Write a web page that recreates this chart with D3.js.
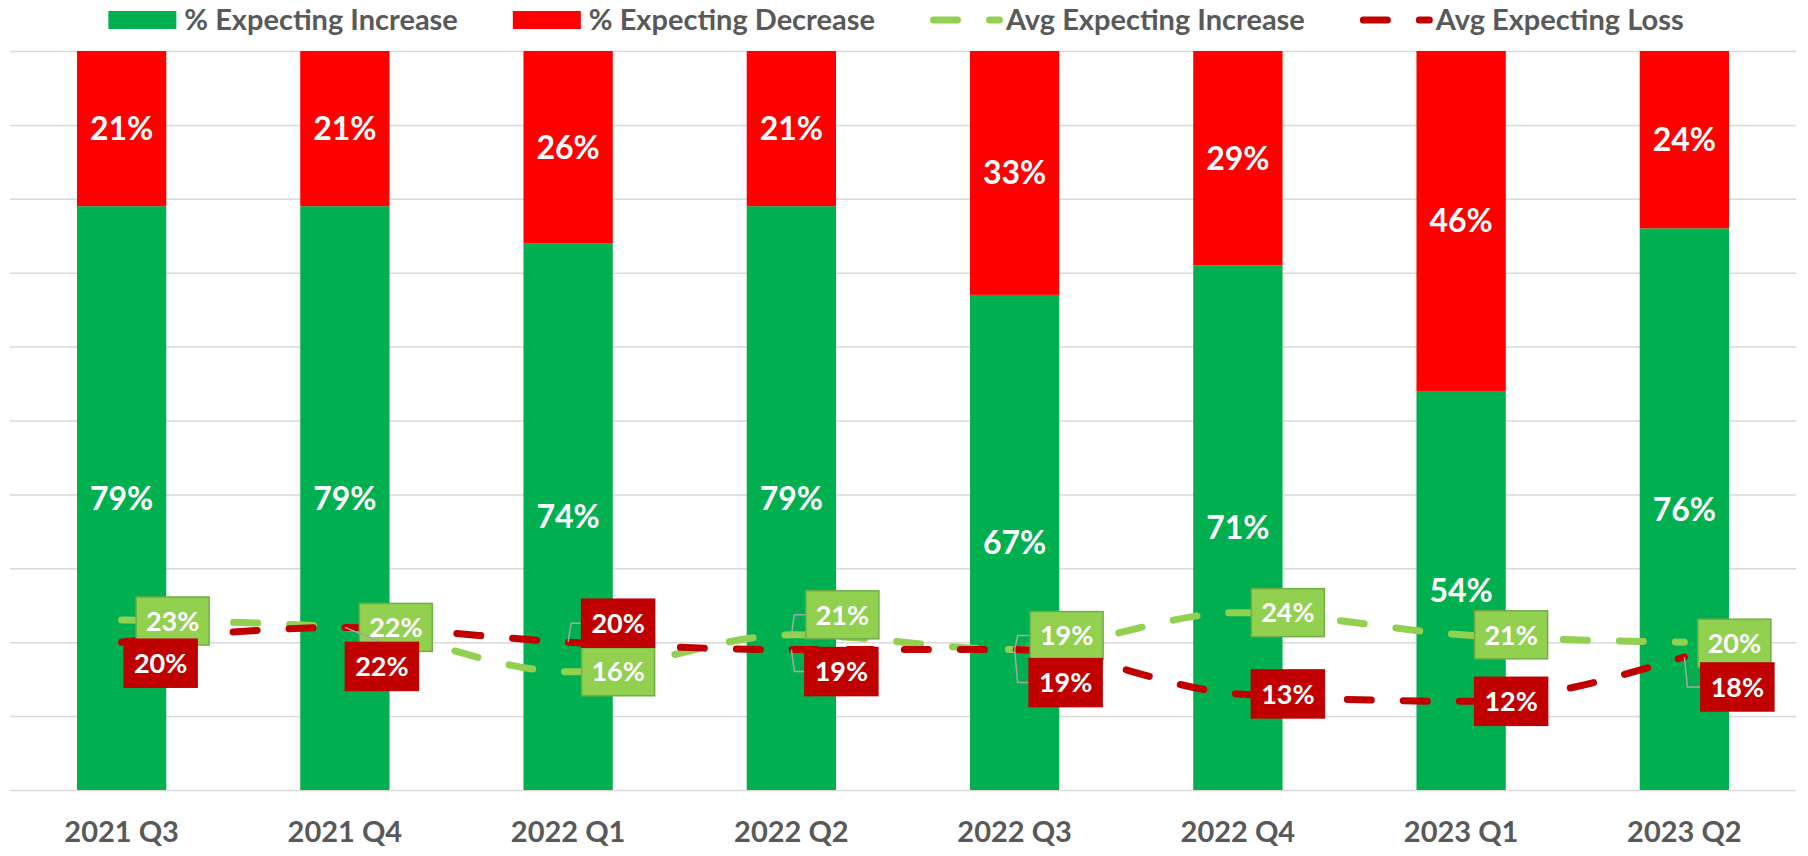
<!DOCTYPE html>
<html>
<head>
<meta charset="utf-8">
<script src="https://cdn.jsdelivr.net/npm/d3@7"></script>
<style>
  body { margin: 0; background: #fff; }
  text { font-family: Lato, "Open Sans", sans-serif; font-weight: bold; }
</style>
</head>
<body>
<div id="chart-area"></div>
<script>
// data
const quarters = ["2021 Q3", "2021 Q4", "2022 Q1", "2022 Q2", "2022 Q3", "2022 Q4", "2023 Q1", "2023 Q2"]
const pctIncrease = [79, 79, 74, 79, 67, 71, 54, 76]
const pctDecrease = [21, 21, 26, 21, 33, 29, 46, 24]
const avgIncrease = [23, 22, 16, 21, 19, 24, 21, 20]
const avgLoss = [20, 22, 20, 19, 19, 13, 12, 18]
const yTicks = [0, 10, 20, 30, 40, 50, 60, 70, 80, 90, 100]
const legendNames = ["% Expecting Increase", "% Expecting Decrease", "Avg Expecting Increase", "Avg Expecting Loss"]

// label nudges (px) for the line labels, as placed by hand in the original
const incNudge = [[51, 1], [51, 0], [50, 0], [51, -20], [52, -14], [50, 0], [50, 0], [50, 1]]
const lossNudge = [[39, 21], [37, 39], [50, -19], [50, 22], [51, 33], [50, 0], [50, 0], [53, 30]]

const W = 1808, H = 856
const svg = d3.select("#chart-area").append("svg")
    .attr("width", W)
    .attr("height", H)

const x = d3.scaleBand()
    .domain(quarters)
    .range([10, 1796])
    .paddingInner(0.6)
    .paddingOuter(0.3)

const y = d3.scaleLinear()
    .domain([0, 100])
    .range([790, 51])

const cx = d => x(d) + x.bandwidth() / 2

// gridlines
const grid = svg.append("g")
    .attr("transform", "translate(10,0)")
    .call(d3.axisLeft(y).tickValues(yTicks).tickSize(-1786).tickFormat(""))
grid.select(".domain").remove()
grid.selectAll("line").attr("stroke", "#d9d9d9").attr("stroke-width", 1.5)

// stacked bars
const rows = quarters.map((q, i) => ({ q: q, inc: pctIncrease[i], dec: pctDecrease[i] }))
const stack = d3.stack().keys(["inc", "dec"])(rows)
const barColor = { inc: "#00b050", dec: "#ff0000" }

const layers = svg.selectAll("g.layer")
    .data(stack)
    .enter().append("g")
    .attr("class", "layer")
    .attr("fill", d => barColor[d.key])

layers.selectAll("rect")
    .data(d => d)
    .enter().append("rect")
    .attr("x", d => x(d.data.q))
    .attr("y", d => y(d[1]))
    .attr("width", x.bandwidth())
    .attr("height", d => y(d[0]) - y(d[1]))

layers.selectAll("text")
    .data(d => d)
    .enter().append("text")
    .attr("x", d => cx(d.data.q))
    .attr("y", d => y((d[0] + d[1]) / 2))
    .attr("dy", "0.36em")
    .attr("text-anchor", "middle")
    .attr("fill", "#fff")
    .attr("font-size", 32)
    .text(d => Math.round(d[1] - d[0]) + "%")

// x axis
const xAxis = svg.append("g")
    .attr("transform", "translate(0,790)")
    .call(d3.axisBottom(x).tickSize(0))
xAxis.select(".domain").remove()
xAxis.selectAll("text")
    .attr("y", 52)
    .attr("dy", null)
    .attr("fill", "#595959")
    .attr("font-size", 29)
    .attr("font-family", "Lato, sans-serif")
    .attr("font-weight", "bold")

// dashed smooth lines
const lineGen = d3.line()
    .x((d, i) => cx(quarters[i]))
    .y(d => y(d))
    .curve(d3.curveMonotoneX)

const series = [
    { vals: avgIncrease, color: "#92d050", box: "#92d050", edge: "#70ad47", nudge: incNudge },
    { vals: avgLoss, color: "#c00000", box: "#c00000", edge: "#c00000", nudge: lossNudge }
]

series.forEach(s => {
    svg.append("path")
        .attr("d", lineGen(s.vals))
        .attr("fill", "none")
        .attr("stroke", s.color)
        .attr("stroke-width", 7)
        .attr("stroke-linecap", "round")
        .attr("stroke-dasharray", "24,32")
})

// line labels with leader lines
const boxW = 73, boxH = 48
series.forEach(s => {
    const g = svg.append("g")
    s.vals.forEach((v, i) => {
        const px = cx(quarters[i]), py = y(v)
        const lx = px + s.nudge[i][0], ly = py + s.nudge[i][1]
        const left = lx - boxW / 2, top = ly - boxH / 2
        if (Math.abs(s.nudge[i][1]) > 10) {
            let pts
            if (left - px > 5) pts = [[px, py], [px + 3, ly], [left, ly]]
            else if (top - py > 5) pts = [[px, py], [lx, top]]
            if (pts) g.append("path")
                .attr("d", d3.line()(pts))
                .attr("fill", "none")
                .attr("stroke", "#a6a6a6")
                .attr("stroke-width", 1.5)
        }
        g.append("rect")
            .attr("x", left)
            .attr("y", top)
            .attr("width", boxW)
            .attr("height", boxH)
            .attr("fill", s.box)
            .attr("stroke", s.edge)
            .attr("stroke-width", 1.5)
        g.append("text")
            .attr("x", lx)
            .attr("y", ly)
            .attr("dy", "0.36em")
            .attr("text-anchor", "middle")
            .attr("fill", "#fff")
            .attr("font-size", 27)
            .text(v + "%")
    })
})

// legend
const legend = svg.append("g")
const legendKinds = [
    { type: "rect", color: "#00b050" },
    { type: "rect", color: "#ff0000" },
    { type: "line", color: "#92d050" },
    { type: "line", color: "#c00000" }
]
let lxPos = 0
legendNames.forEach((name, i) => {
    const item = legend.append("g").attr("transform", `translate(${lxPos},0)`)
    const k = legendKinds[i]
    if (k.type === "rect") {
        item.append("rect")
            .attr("x", 0).attr("y", 11)
            .attr("width", 68).attr("height", 18)
            .attr("fill", k.color)
    } else {
        item.append("path")
            .attr("d", "M3.5,20H69.5")
            .attr("stroke", k.color)
            .attr("stroke-width", 7)
            .attr("stroke-linecap", "round")
            .attr("stroke-dasharray", "24,32")
    }
    const t = item.append("text")
        .attr("x", 76)
        .attr("y", 30)
        .attr("fill", "#595959")
        .attr("font-size", 29)
        .text(name)
    lxPos += 76 + t.node().getComputedTextLength() + 55
})
const legendW = lxPos - 55
legend.attr("transform", `translate(${896 - legendW / 2},0)`)
</script>
</body>
</html>
